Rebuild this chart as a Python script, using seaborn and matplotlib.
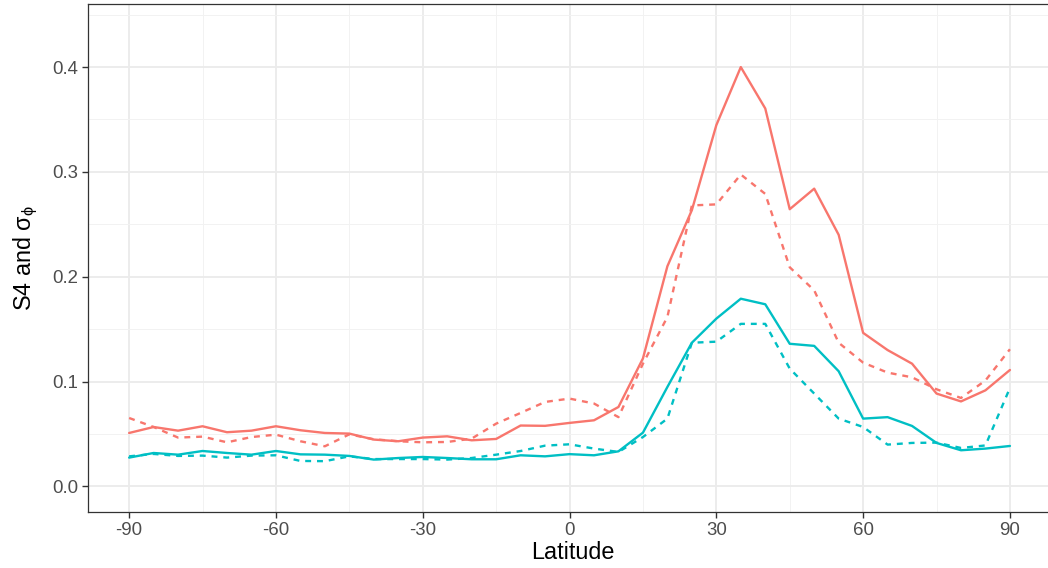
import numpy as np
import pandas as pd
import matplotlib
matplotlib.use("Agg")
import matplotlib.pyplot as plt
import seaborn as sns

latitude = list(range(-90, 95, 5))

s4_solid = [0.0509, 0.0566, 0.0531, 0.0573, 0.0516, 0.0531, 0.0573, 0.0535, 0.0509, 0.0503,
            0.0446, 0.0430, 0.0465, 0.0477, 0.0439, 0.0452, 0.0580, 0.0577, 0.0605,
            0.063, 0.0757, 0.122, 0.210, 0.2635, 0.3446, 0.400, 0.3605, 0.2644, 0.284,
            0.240, 0.1464, 0.130, 0.117, 0.0885, 0.081, 0.0916, 0.111]
s4_dashed = [0.0652, 0.0566, 0.0465, 0.0474, 0.0420, 0.0470, 0.0493, 0.0430, 0.0382, 0.0496,
             0.0449, 0.0430, 0.0420, 0.0423, 0.0455, 0.0598, 0.0700, 0.0805, 0.0837,
             0.079, 0.066, 0.117, 0.1616, 0.268, 0.269, 0.2975, 0.279, 0.209, 0.187,
             0.137, 0.118, 0.1085, 0.104, 0.0926, 0.0843, 0.101, 0.1308]
sig_solid = [0.0274, 0.0318, 0.0302, 0.0337, 0.0318, 0.0302, 0.0337, 0.0305, 0.0302, 0.0290,
             0.0255, 0.0270, 0.0280, 0.0270, 0.0258, 0.0258, 0.0296, 0.0286, 0.0307,
             0.0296, 0.0334, 0.0512, 0.0948, 0.137, 0.160, 0.179, 0.1737, 0.136, 0.134,
             0.1098, 0.0646, 0.066, 0.0576, 0.0414, 0.0344, 0.036, 0.0385]
sig_dashed = [0.0286, 0.0309, 0.0290, 0.0293, 0.0274, 0.0293, 0.0296, 0.0242, 0.0240, 0.0286,
              0.0260, 0.0260, 0.0260, 0.0255, 0.0270, 0.0302, 0.0337, 0.0388, 0.0401,
              0.036, 0.0328, 0.047, 0.0646, 0.137, 0.138, 0.155, 0.155, 0.1123, 0.0885,
              0.0646, 0.0566, 0.0398, 0.0414, 0.0417, 0.0366, 0.039, 0.0939]

x_ticks = [-90, -60, -30, 0, 30, 60, 90]
y_ticks = [0.0, 0.1, 0.2, 0.3, 0.4]
y_tick_labels = ["0.0", "0.1", "0.2", "0.3", "0.4"]

series = {
    ("S4", "a"): s4_solid,
    ("S4", "b"): s4_dashed,
    ("sigma", "a"): sig_solid,
    ("sigma", "b"): sig_dashed,
}
rows = []
for (var, kind), vals in series.items():
    for lat, v in zip(latitude, vals):
        rows.append({"Latitude": lat, "value": v, "var": var, "kind": kind})
df = pd.DataFrame(rows)

sns.set_theme(style="white")
plt.rcParams["font.family"] = ["Liberation Sans", "DejaVu Sans"]
plt.rcParams["mathtext.fontset"] = "custom"
plt.rcParams["mathtext.rm"] = "Liberation Sans"

fig = plt.figure(figsize=(10.48, 5.68), dpi=100)
# panel extends slightly past the right edge of the canvas, as in the reference
ax = fig.add_axes([0.084, 0.0986, 0.9245, 0.894])

sns.lineplot(data=df, x="Latitude", y="value", hue="var", style="kind",
             palette={"S4": "#F8766D", "sigma": "#00BFC4"},
             dashes={"a": "", "b": (2.5, 2.5)}, linewidth=1.7, legend=False, ax=ax,
             estimator=None, sort=True)

ax.set_xlim(-98.4, 99.6)
ax.set_ylim(-0.0245, 0.46)
ax.set_xticks(x_ticks)
ax.set_xticks([-75, -45, -15, 15, 45, 75], minor=True)
ax.set_yticks(y_ticks)
ax.set_yticks([0.05, 0.15, 0.25, 0.35, 0.45], minor=True)
ax.set_yticklabels(y_tick_labels)
ax.set_xticklabels([str(v) for v in x_ticks])

ax.grid(True, which="major", color="#EBEBEB", linewidth=1.3)
ax.grid(True, which="minor", color="#F2F2F2", linewidth=0.7)
ax.set_axisbelow(True)
for s in ax.spines.values():
    s.set_color("#333333")
    s.set_linewidth(0.9)
ax.tick_params(which="major", length=4.5, width=1.0, color="#333333",
               labelcolor="#4D4D4D", labelsize=13.4, left=True, bottom=True, pad=2.5)
ax.tick_params(which="minor", length=0)

ax.set_xlabel("Latitude", fontsize=16.8, color="black", labelpad=2)
ax.set_ylabel("S4 and σ$_{\\mathrm{ϕ}}$", fontsize=16.8, color="black", labelpad=9)

fig.savefig("out.png", dpi=100)
